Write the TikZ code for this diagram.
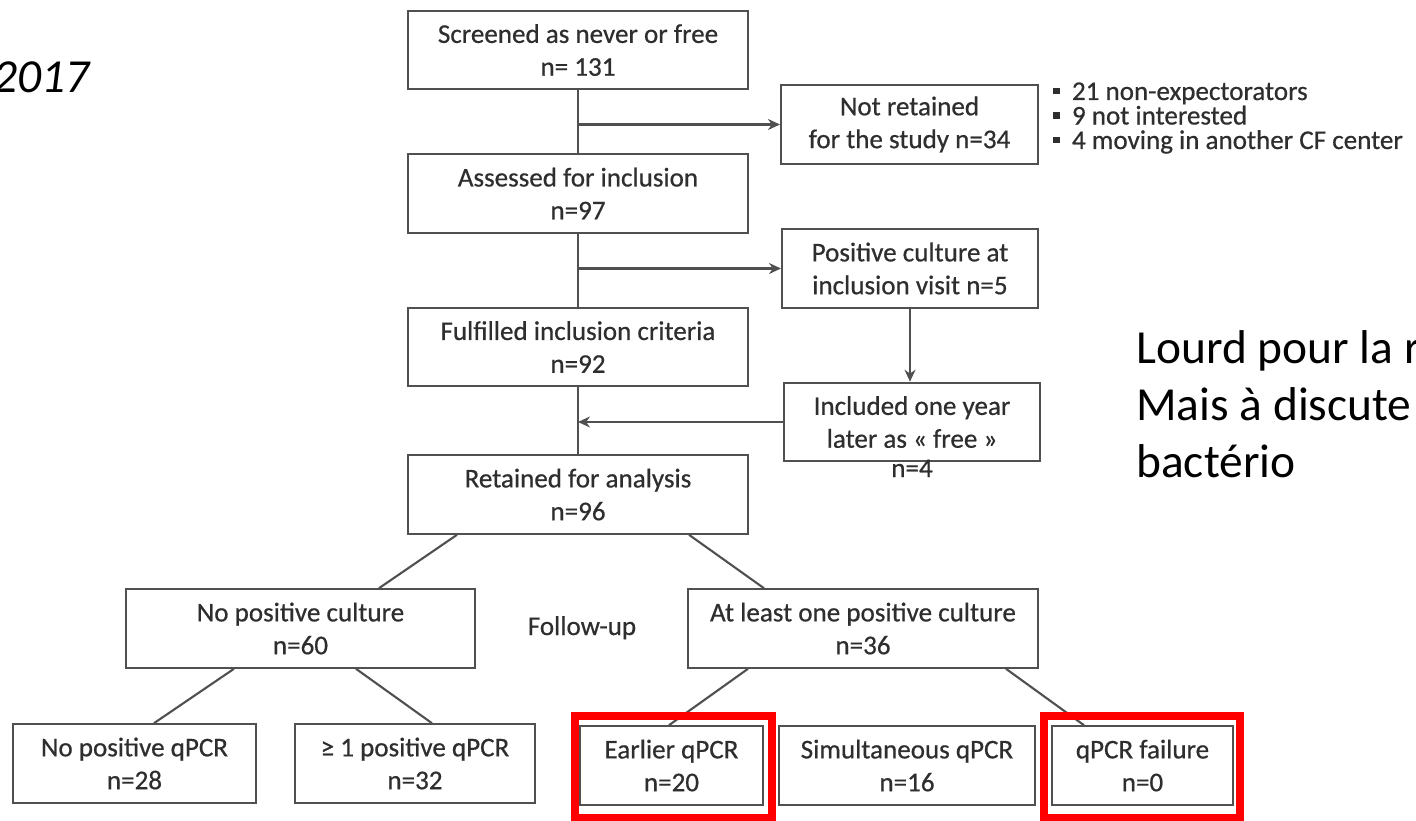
\documentclass[tikz,border=0pt]{standalone}
\usepackage{fontspec}
\setmainfont{Carlito}
\newfontfamily\flowfam{Carlito}[FakeBold=0.6]
\usepackage{xcolor}
\usetikzlibrary{arrows.meta, positioning, calc}
\definecolor{boxline}{HTML}{505050}
\definecolor{boxtext}{HTML}{2E2E2E}
\newcommand{\flowfont}{\flowfam\fontsize{15.4}{18.7}\selectfont}
\newcommand{\notefont}{\fontsize{27}{32.3}\selectfont}
\newcommand{\sqbullet}{\raisebox{0.22em}{\rule{3.6pt}{3.6pt}}\hspace{7pt}}
\tikzset{
  flowbox/.style={rectangle, draw=boxline, line width=1.2pt, text=boxtext, align=center, inner sep=0pt, minimum height=1.57cm, font=\flowfont},
  link/.style={draw=boxline, line width=1.2pt},
  arrow/.style={-{Stealth[length=2.4mm, width=2.2mm]}, line width=1.2pt, draw=boxline},
  highlight/.style={draw=red, line width=4.5pt},
  note/.style={font=\notefont, text=black, inner sep=0pt},
}
\begin{document}
\begin{tikzpicture}[x=0.02cm, y=-0.02cm]
  \useasboundingbox (0,0) rectangle (1416,821);

  % Main column
  \node[flowbox, minimum width=6.8cm] (screened) at (578,50) {Screened as never or free\\n= 131};
  \node[flowbox, minimum width=6.8cm] (assessed) at (578,193.5) {Assessed for inclusion\\n=97};
  \node[flowbox, minimum width=6.8cm] (fulfilled) at (578,347) {Fulfilled inclusion criteria\\n=92};
  \node[flowbox, minimum width=6.8cm] (retained) at (578,494.5) {Retained for analysis\\n=96};

  % Side boxes
  \node[flowbox, minimum width=5.14cm] (notret) at (909.5,124.5) {Not retained\\for the study n=34};
  \node[flowbox, minimum width=5.12cm] (poscult) at (910,268.5) {Positive culture at\\inclusion visit n=5};
  \node[flowbox, minimum width=5.12cm] (incl) at (912,422) {Included one year\\later as « free »};
  \node[font=\flowfont, text=boxtext, anchor=base, inner sep=0pt] (incln) at (912,477) {n=4};

  \foreach \i/\reason in {0/21 non-expectorators, 1/9 not interested, 2/4 moving in another CF center} {
    \node[font=\flowfont, text=boxtext, anchor=base west, inner sep=0pt] (reason\i) at (1053,{100+\i*24.5}) {\sqbullet\reason};
  }

  % Follow-up split
  \node[flowbox, minimum width=6.98cm] (noposcult) at (300.5,628.5) {No positive culture\\n=60};
  \node[flowbox, minimum width=7.0cm] (atleast) at (863,628.5) {At least one positive culture\\n=36};
  \node[font=\flowfont, text=boxtext, anchor=base, inner sep=0pt] (followup) at (582,635) {Follow-up};

  \node[flowbox, minimum width=4.86cm] (noposq) at (134.5,763.5) {No positive qPCR\\n=28};
  \node[flowbox, minimum width=4.8cm] (geqone) at (415,763.5) {≥ 1 positive qPCR\\n=32};
  \node[flowbox, minimum width=3.66cm] (earlier) at (671.5,765.5) {Earlier qPCR\\n=20};
  \node[flowbox, minimum width=5.12cm] (simult) at (907,765.5) {Simultaneous qPCR\\n=16};
  \node[flowbox, minimum width=3.62cm] (failure) at (1142.5,765.5) {qPCR failure\\n=0};

  % Connectors
  \draw[link] (screened) -- (assessed);
  \draw[link] (assessed) -- (fulfilled);
  \draw[link] (fulfilled) -- (retained);
  \draw[arrow] (screened.south |- notret.west) -- (notret.west);
  \draw[arrow] (assessed.south |- poscult.west) -- (poscult.west);
  \draw[arrow] (poscult.south) -- (poscult.south |- incl.north);
  \draw[arrow] (incl.west) -- (fulfilled.south |- incl.west);

  \draw[link] ($(retained.south west)+(50,0)$) -- ($(noposcult.north west)+(254,0)$);
  \draw[link] ($(retained.south east)+(-60,0)$) -- ($(atleast.north west)+(77,0)$);
  \draw[link] ($(noposcult.south west)+(109,0)$) -- ($(noposq.north west)+(142,0)$);
  \draw[link] ($(noposcult.south west)+(231,0)$) -- ($(geqone.north west)+(138,0)$);
  \draw[link] ($(atleast.south west)+(61,0)$) -- ($(earlier.north west)+(90,0)$);
  \draw[link] ($(atleast.south west)+(191,0)$) -- ($(atleast.south west)+(191,0)$ |- simult.north);
  \draw[link] ($(atleast.south west)+(319,0)$) -- ($(failure.north west)+(33,0)$);

  % Red highlights
  \draw[highlight] ($(earlier.north west)+(-4,-9)$) rectangle ($(earlier.south east)+(8,12)$);
  \draw[highlight] ($(failure.north west)+(-7,-9)$) rectangle ($(failure.south east)+(6,12)$);

  % Notes
  \node[note, anchor=base east] (year) at (90,92) {\itshape 2017};
  \node[note, anchor=base west] (noteA) at (1136,363) {Lourd pour la r};
  \node[note, anchor=base west] (noteB) at (1136,420) {Mais à discute};
  \node[note, anchor=base west] (noteC) at (1136,477) {bactério};
\end{tikzpicture}
\end{document}
